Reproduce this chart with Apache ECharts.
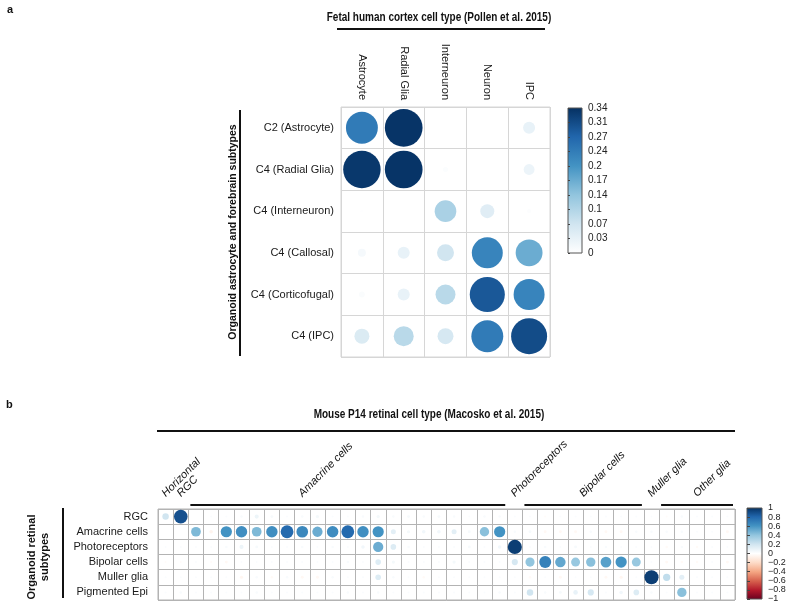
<!DOCTYPE html>
<html>
<head>
<meta charset="utf-8">
<script src="https://cdn.jsdelivr.net/npm/echarts@6/dist/echarts.min.js"></script>
<style>html,body{margin:0;padding:0;background:#fff}#c{width:800px;height:612px}</style>
</head>
<body>
<div id="c"></div>
<script>
// ---------------- Panel a data ----------------
const cortexTypes = ['Astrocyte', 'Radial Glia', 'Interneuron', 'Neuron', 'IPC'];
const organoidSubtypes = ['C2 (Astrocyte)', 'C4 (Radial Glia)', 'C4 (Interneuron)', 'C4 (Callosal)', 'C4 (Corticofugal)', 'C4 (IPC)'];
const rowC2Astrocyte   = [0.24, 0.335, 0, 0, 0.034];
const rowC4RadialGlia  = [0.33, 0.335, 0.006, 0, 0.028];
const rowC4Interneuron = [0.002, 0, 0.11, 0.046, 0.004];
const rowC4Callosal    = [0.015, 0.034, 0.068, 0.226, 0.17];
const rowC4Corticofugal= [0.008, 0.034, 0.094, 0.29, 0.226];
const rowC4IPC         = [0.053, 0.094, 0.06, 0.24, 0.305];
const colorbarATicks = ['0', '0.03', '0.07', '0.1', '0.14', '0.17', '0.2', '0.24', '0.27', '0.31', '0.34'];
const colorbarAMax = 0.34;

// ---------------- Panel b data ----------------
const retinalSubtypes = ['RGC', 'Amacrine cells', 'Photoreceptors', 'Bipolar cells', 'Muller glia', 'Pigmented Epi'];
const mouseColumnCount = 38;
const groupNames    = ['Horizontal', 'RGC', 'Amacrine cells', 'Photoreceptors', 'Bipolar cells', 'Muller glia', 'Other glia'];
const groupFirstCol = [1, 2, 3, 24, 25, 33, 34];
const groupLastCol  = [1, 2, 23, 24, 32, 33, 38];
const groupLabelCol = [1, 2, 10, 24, 28.5, 33, 36];
const rowRGC = [0.2, 0.88, 0, 0.02, 0.02, 0.03, 0.08, 0.04, 0.02, 0.03, 0.05, 0.02, 0.02, 0.03, 0.05, 0.03, 0.04, 0.03, 0.04,
                0.03, 0.02, 0.03, 0.03, 0.02, 0.02, -0.02, 0.02, 0.02, 0.02, 0.02, 0.02, 0.02, 0.02, -0.02, 0.03, 0.02, 0.02, 0.02];
const rowAmacrine = [0, 0, 0.45, -0.06, 0.6, 0.62, 0.45, 0.62, 0.78, 0.65, 0.5, 0.63, 0.78, 0.62, 0.6, 0.12, 0.05, 0.06, 0.06,
                0.12, 0.04, 0.42, 0.6, 0.03, 0.04, -0.04, -0.04, -0.04, 0.03, -0.04, -0.04, 0.03, 0.03, 0.03, 0.03, 0.02, 0.02, -0.04];
const rowPhotoreceptors = [0.02, 0.02, 0.02, 0.02, 0.03, 0.08, 0.04, 0.02, 0.02, 0.03, 0.02, 0.03, 0.02, 0.06, 0.5, 0.15, 0.03, 0.02, 0.02,
                0.02, 0.04, 0.02, 0.06, 0.95, 0.02, 0.03, 0.02, 0.04, 0.02, 0.03, 0.02, 0.02, 0.02, -0.03, 0.03, -0.03, 0.02, 0.02];
const rowBipolar = [-0.02, -0.02, 0.02, -0.02, -0.04, 0.02, 0.02, 0.02, 0.02, 0.02, 0.02, 0.02, 0.03, 0.02, 0.15, 0.05, 0.02, 0.02, 0.02,
                0.05, 0.02, 0.02, 0.02, 0.18, 0.4, 0.68, 0.52, 0.38, 0.42, 0.55, 0.6, 0.38, 0.02, -0.04, -0.03, -0.03, 0.02, -0.04];
const rowMuller = [0.02, 0.02, 0.02, 0.02, 0.02, -0.05, 0.03, -0.03, 0.03, -0.04, -0.04, 0.03, 0.02, 0.02, 0.15, 0.03, 0.02, -0.03, 0.02,
                0.02, 0.02, 0.02, 0.02, 0.02, -0.03, 0.02, -0.04, 0.02, 0.02, -0.04, -0.05, 0.02, 0.95, 0.25, 0.12, 0.02, 0.02, 0.02];
const rowPigmentedEpi = [0.02, 0.03, 0.02, 0.02, 0.02, 0.02, 0.03, 0.02, 0.02, 0.02, 0.02, 0.02, 0.03, 0.02, 0.03, 0.02, 0.02, 0.02, 0.02,
                0.02, 0.02, 0.02, 0.03, 0.02, 0.2, 0.03, 0.04, 0.1, 0.18, 0.02, 0.06, 0.15, 0.03, 0.02, 0.42, 0.02, 0.02, 0.02];
const colorbarBTicks = ['\u22121', '\u22120.8', '\u22120.6', '\u22120.4', '\u22120.2', '0', '0.2', '0.4', '0.6', '0.8', '1'];

// ---------------- styles ----------------
const FONT = '"Liberation Sans", Arial, Helvetica, sans-serif';
const RDBU = ['#67001F', '#B2182B', '#D6604D', '#F4A582', '#FDDBC7', '#FFFFFF', '#D1E5F0', '#92C5DE', '#4393C3', '#2166AC', '#053061'];
const BLUES = RDBU.slice(5);

function gradient(colorsBottomToTop) {
  const n = colorsBottomToTop.length;
  return new echarts.graphic.LinearGradient(0, 1, 0, 0,
    colorsBottomToTop.map((c, i) => ({ offset: i / (n - 1), color: c })));
}

const rowsA = [rowC2Astrocyte, rowC4RadialGlia, rowC4Interneuron, rowC4Callosal, rowC4Corticofugal, rowC4IPC];
const dataA = [];
rowsA.forEach((r, i) => r.forEach((v, j) => { if (v > 0) dataA.push([j, i, v]); }));

const rowsB = [rowRGC, rowAmacrine, rowPhotoreceptors, rowBipolar, rowMuller, rowPigmentedEpi];
const dataB = [];
rowsB.forEach((r, i) => r.forEach((v, j) => { if (v !== 0) dataB.push([j + 0.5, i, v]); }));

const chart = echarts.init(document.getElementById('c'), null, { renderer: 'canvas' });

const hiddenAxis = (g) => ({ gridIndex: g, type: 'value', show: false, min: 0, max: 1 });
const colorbarAxis = (g, labels, fs, margin, tickLen) => ({
  gridIndex: g, type: 'value', position: 'right', min: 0, max: labels.length - 1, interval: 1,
  axisLine: { show: false },
  axisTick: { show: true, length: tickLen, lineStyle: { color: '#444', width: 1 } },
  axisLabel: { formatter: (v) => labels[v], fontSize: fs, margin: margin, color: '#222', fontFamily: FONT },
  splitLine: { show: false }
});

chart.setOption({
  animation: false,
  backgroundColor: '#ffffff',
  textStyle: { fontFamily: FONT },
  grid: [
    { left: 341, top: 107, width: 209, height: 250, show: true, borderColor: '#d6d6d6', borderWidth: 1, backgroundColor: 'rgba(0,0,0,0)', outerBoundsMode: 'none', containLabel: false },
    { left: 158, top: 509, width: 577, height: 91, show: true, borderColor: '#b3b3b3', borderWidth: 1, backgroundColor: 'rgba(0,0,0,0)', outerBoundsMode: 'none', containLabel: false },
    { left: 568, top: 108, width: 14, height: 145, show: true, borderColor: '#555', borderWidth: 1, backgroundColor: gradient(BLUES), outerBoundsMode: 'none', containLabel: false },
    { left: 747, top: 508, width: 15, height: 91, show: true, borderColor: '#555', borderWidth: 1, backgroundColor: gradient(RDBU), outerBoundsMode: 'none', containLabel: false }
  ],
  xAxis: [
    { gridIndex: 0, type: 'category', position: 'top', data: cortexTypes, boundaryGap: true,
      axisLine: { show: false }, axisTick: { show: false },
      axisLabel: { rotate: 90, interval: 0, fontSize: 11, color: '#1a1a1a', margin: 7, fontFamily: FONT },
      splitLine: { show: true, interval: 0, lineStyle: { color: '#d6d6d6', width: 1 } } },
    { gridIndex: 1, type: 'value', min: 0, max: mouseColumnCount, interval: 1,
      axisLine: { show: false }, axisTick: { show: false }, axisLabel: { show: false },
      splitLine: { show: true, lineStyle: { color: '#b3b3b3', width: 1 } } },
    hiddenAxis(2),
    hiddenAxis(3)
  ],
  yAxis: [
    { gridIndex: 0, type: 'category', inverse: true, data: organoidSubtypes, boundaryGap: true,
      axisLine: { show: false }, axisTick: { show: false },
      axisLabel: { interval: 0, fontSize: 11, color: '#1a1a1a', margin: 7, fontFamily: FONT },
      splitLine: { show: true, interval: 0, lineStyle: { color: '#d6d6d6', width: 1 } } },
    { gridIndex: 1, type: 'category', inverse: true, data: retinalSubtypes, boundaryGap: true,
      axisLine: { show: false }, axisTick: { show: false },
      axisLabel: { interval: 0, fontSize: 11, color: '#1a1a1a', margin: 10, fontFamily: FONT },
      splitLine: { show: true, interval: 0, lineStyle: { color: '#b3b3b3', width: 1 } } },
    colorbarAxis(2, colorbarATicks, 10, 6, 2),
    colorbarAxis(3, colorbarBTicks, 9, 6, 3)
  ],
  visualMap: [
    { type: 'continuous', show: false, min: 0, max: colorbarAMax, dimension: 2, seriesIndex: 0, inRange: { color: BLUES } },
    { type: 'continuous', show: false, min: -1, max: 1, dimension: 2, seriesIndex: 1, inRange: { color: RDBU } }
  ],
  series: [
    { type: 'scatter', xAxisIndex: 0, yAxisIndex: 0, data: dataA, silent: true,
      symbolSize: (d) => 38 * Math.sqrt(d[2] / colorbarAMax), itemStyle: { opacity: 1 } },
    { type: 'scatter', xAxisIndex: 1, yAxisIndex: 1, data: dataB, silent: true,
      symbolSize: (d) => 14.5 * Math.sqrt(Math.abs(d[2])), itemStyle: { opacity: 1 } }
  ]
});

// ---------------- annotations ----------------
function txt(x, y, text, font, align, valign, rotation, scaleX) {
  return { type: 'text', x: x, y: y, rotation: rotation || 0, scaleX: scaleX || 1, silent: true,
    style: { text: text, font: font, fill: '#111', textAlign: align, align: align, textVerticalAlign: valign, verticalAlign: valign } };
}
function ln(x1, y1, x2, y2, w) {
  return { type: 'line', silent: true, shape: { x1: x1, y1: y1, x2: x2, y2: y2 }, style: { stroke: '#111', lineWidth: w || 2 } };
}

const g = [];
g.push(txt(7, 10, 'a', 'bold 11px ' + FONT, 'left', 'middle'));
g.push(txt(6, 405, 'b', 'bold 11px ' + FONT, 'left', 'middle'));
// Panel a headers (condensed bold look)
g.push(txt(439, 18, 'Fetal human cortex cell type (Pollen et al. 2015)', 'bold 12.5px ' + FONT, 'center', 'middle', 0, 0.8));
g.push(ln(337, 29, 545, 29, 2));
g.push(txt(233, 232, 'Organoid astrocyte and forebrain subtypes', 'bold 10.5px ' + FONT, 'center', 'middle', Math.PI / 2));
g.push(ln(240, 110, 240, 356, 2));
// Panel b headers
g.push(txt(429, 415, 'Mouse P14 retinal cell type (Macosko et al. 2015)', 'bold 12.5px ' + FONT, 'center', 'middle', 0, 0.8));
g.push(ln(157, 431, 735, 431, 2));
g.push(txt(32, 557, 'Organoid retinal', 'bold 11px ' + FONT, 'center', 'middle', Math.PI / 2));
g.push(txt(45, 557, 'subtypes', 'bold 11px ' + FONT, 'center', 'middle', Math.PI / 2));
g.push(ln(63, 508, 63, 598, 2));

const px = (col) => chart.convertToPixel({ xAxisIndex: 1 }, col);
groupNames.forEach((name, i) => {
  const ax = px(groupLabelCol[i] - 0.5) + 2;
  g.push(txt(ax, 499, name, 'italic 11px ' + FONT, 'left', 'bottom', Math.PI / 4));
  if (groupLastCol[i] > groupFirstCol[i]) {
    g.push(ln(px(groupFirstCol[i] - 1) + 2, 505, px(groupLastCol[i]) - 2, 505, 2));
  }
});

chart.setOption({ graphic: { elements: g } });
</script>
</body>
</html>
